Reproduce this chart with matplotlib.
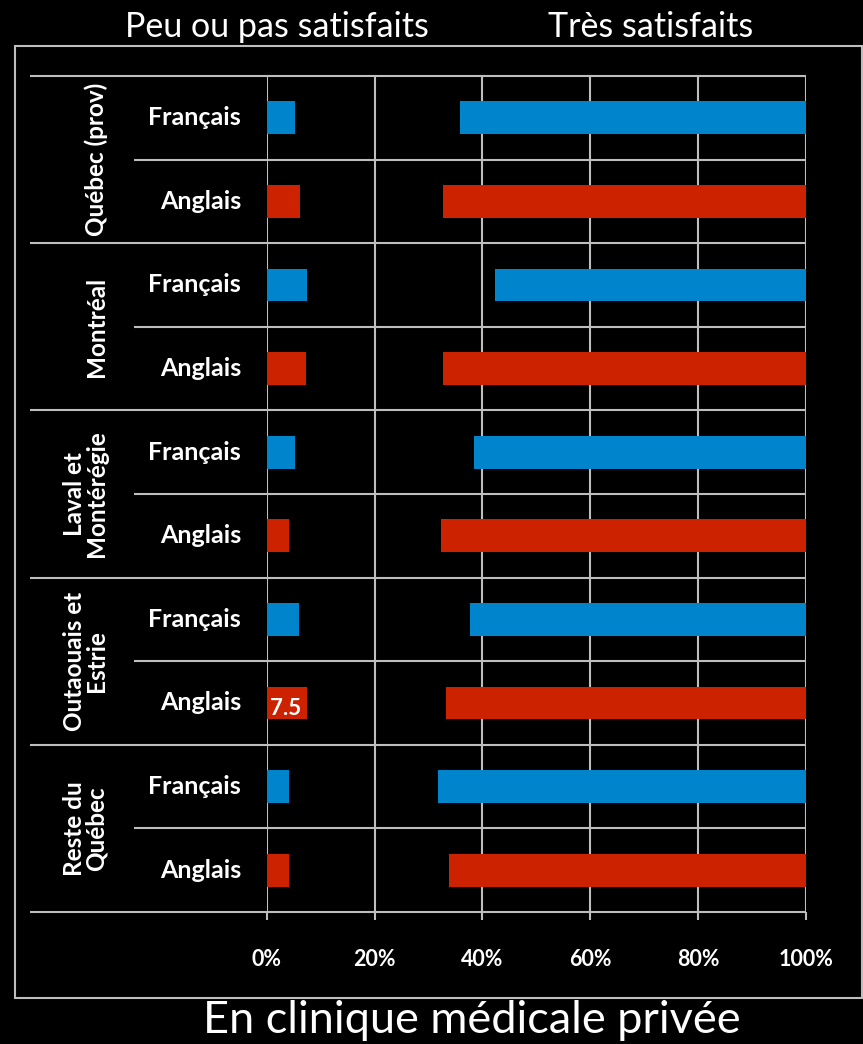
import matplotlib
matplotlib.use("Agg")
import matplotlib.pyplot as plt
from matplotlib.patches import Rectangle
from matplotlib.transforms import blended_transform_factory
import numpy as np

plt.rcParams['font.family'] = ['Lato', 'DejaVu Sans']

# Survey results, top to bottom (Français / Anglais within each region)
groups = ["Québec (prov)", "Montréal", "Laval et\nMontérégie",
          "Outaouais et\nEstrie", "Reste du\nQuébec"]
languages = ["Français", "Anglais"]
peu_satisfaits = [5.2, 6.2, 7.5, 7.2, 5.3, 4.2, 6.0, 7.5, 4.2, 4.2]
tres_satisfaits = [64.1, 67.4, 57.6, 67.4, 61.5, 67.7, 62.3, 66.7, 68.3, 66.2]
tick_values = [0, 20, 40, 60, 80, 100]
tick_labels = ["0%", "20%", "40%", "60%", "80%", "100%"]
header_left = "Peu ou pas satisfaits"
header_right = "Très satisfaits"
footer = "En clinique médicale privée"
labelled_row = 7

BLUE = "#0084CC"
RED = "#CC2200"
GRID = "#BEBEBE"
LW = 1.5

W, H = 863, 1044
fig = plt.figure(figsize=(W / 100, H / 100), dpi=100, facecolor="black")

# plot area in pixel terms
x0_px, x1_px, ytop_px, ybot_px = 266.7, 806.0, 76.0, 912.0
ax = fig.add_axes([x0_px / W, 1 - ybot_px / H, (x1_px - x0_px) / W, (ybot_px - ytop_px) / H])
ax.set_facecolor("black")


def ax_x(px):
    return (px - x0_px) / (x1_px - x0_px)


n = len(peu_satisfaits)
ypos = np.arange(n)
colors = [BLUE if i % 2 == 0 else RED for i in range(n)]
tres = np.array(tres_satisfaits)

ax.barh(ypos, peu_satisfaits, height=0.39, color=colors, zorder=3)
ax.barh(ypos, tres, left=100 - tres, height=0.39, color=colors, zorder=3)

ax.set_xlim(0, 100)
ax.set_ylim(n - 0.5, -0.5)
for s in ax.spines.values():
    s.set_visible(False)

ax.set_xticks(tick_values)
ax.set_xticklabels(tick_labels, fontsize=15.5, fontweight="bold", color="white")
ax.tick_params(axis="x", length=6, width=LW, color=GRID, pad=21)
ax.tick_params(axis="y", left=False, labelleft=False)
ax.xaxis.grid(True, color=GRID, lw=LW)
ax.set_axisbelow(True)

trans = blended_transform_factory(ax.transAxes, ax.transData)

# row separators: long ones between regions, short ones between languages
for k in range(n + 1):
    b = k - 0.5
    start = ax_x(30) if k % 2 == 0 else ax_x(134)
    ax.plot([start, 1], [b, b], transform=trans, color=GRID, lw=LW,
            clip_on=False, zorder=1, solid_capstyle="butt")

# language labels
for i in range(n):
    ax.text(ax_x(241), i, languages[i % 2], transform=trans, ha="right",
            va="center", fontsize=18, fontweight="bold", color="white")

# region labels
for g, name in enumerate(groups):
    ax.text(ax_x(108), 2 * g + 0.5, name, transform=trans, rotation=90,
            ha="right", va="center", multialignment="center",
            fontsize=17.5, fontweight="bold", color="white", linespacing=0.95)

# value label inside one bar
ax.text(0.6, labelled_row + 0.07, f"{peu_satisfaits[labelled_row]:g}",
        ha="left", va="center", fontsize=16, fontweight="bold",
        color="white", zorder=4)

# outer frame
fig.add_artist(Rectangle((15 / W, 1 - 998 / H), 847 / W, 952 / H,
                         transform=fig.transFigure, fill=False,
                         ec=GRID, lw=LW))

fig.text(277 / W, 1 - 37 / H, header_left, ha="center", va="baseline",
         fontsize=24.5, color="white", fontweight="normal")
fig.text(651 / W, 1 - 37 / H, header_right, ha="center", va="baseline",
         fontsize=24.5, color="white", fontweight="normal")
fig.text(472 / W, 1 - 1033 / H, footer, ha="center", va="baseline",
         fontsize=32.5, color="white", fontweight="normal")

fig.savefig("out.png", dpi=100, facecolor="black")
